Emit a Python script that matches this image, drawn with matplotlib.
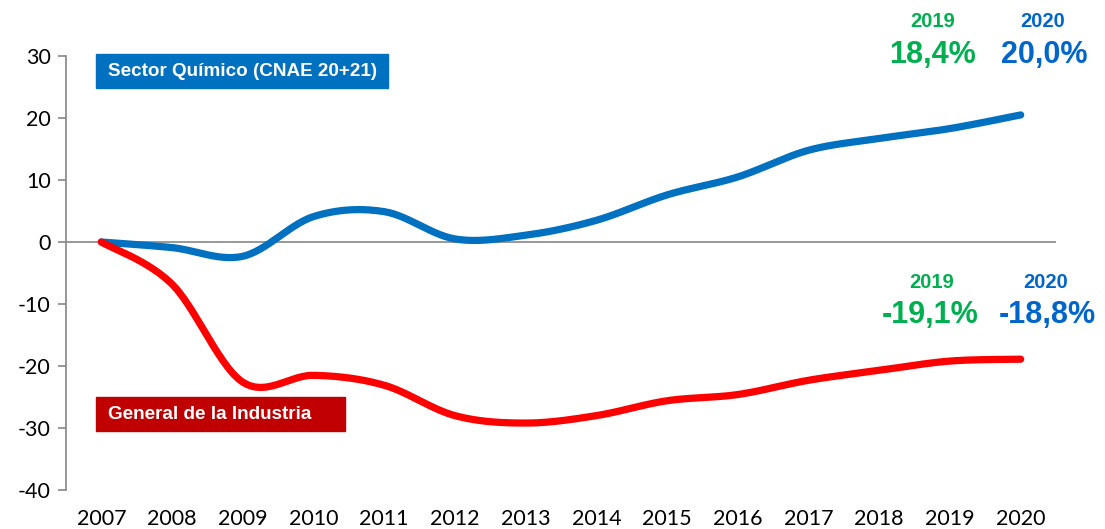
import numpy as np
import matplotlib
matplotlib.use("Agg")
import matplotlib.pyplot as plt
from matplotlib.patches import Rectangle

plt.rcParams['axes.unicode_minus'] = False

# datos
years = ['2007', '2008', '2009', '2010', '2011', '2012', '2013',
         '2014', '2015', '2016', '2017', '2018', '2019', '2020']
quimico = [0, -0.9, -2.3, 4.1, 4.9, 0.5, 1.1, 3.5, 7.6, 10.5, 14.8, 16.7, 18.3, 20.5]
industria = [0, -6.8, -22.6, -21.5, -23.1, -28.0, -29.2, -28.0, -25.6, -24.6, -22.3, -20.7, -19.2, -18.9]
yticks = [30, 20, 10, 0, -10, -20, -30, -40]

BLUE = '#0070C0'
RED = '#FF0000'
DARKRED = '#C00000'
GREEN = '#00B050'
LABBLUE = '#0066CC'


def suavizar(x, y, n=30):
    # curva tipo Catmull-Rom (como el "suavizado" de Excel)
    x = np.asarray(x, float)
    y = np.asarray(y, float)
    px = np.concatenate([[x[0]], x, [x[-1]]])
    py = np.concatenate([[y[0]], y, [y[-1]]])
    t = np.linspace(0, 1, n)
    xs, ys = [], []
    for i in range(1, len(px) - 2):
        p0x, p1x, p2x, p3x = px[i - 1], px[i], px[i + 1], px[i + 2]
        p0y, p1y, p2y, p3y = py[i - 1], py[i], py[i + 1], py[i + 2]
        c1x, c1y = p1x + (p2x - p0x) / 6, p1y + (p2y - p0y) / 6
        c2x, c2y = p2x - (p3x - p1x) / 6, p2y - (p3y - p1y) / 6
        b0 = (1 - t) ** 3
        b1 = 3 * (1 - t) ** 2 * t
        b2 = 3 * (1 - t) * t ** 2
        b3 = t ** 3
        xs.append(b0 * p1x + b1 * c1x + b2 * c2x + b3 * p2x)
        ys.append(b0 * p1y + b1 * c1y + b2 * c2y + b3 * p2y)
    return np.concatenate(xs), np.concatenate(ys)


fig = plt.figure(figsize=(11.05, 5.29), dpi=100)
ax = fig.add_axes([0.0597, 0.0737, 0.8960, 0.8204])

xpos = np.arange(len(years))
xq, yq = suavizar(xpos, quimico)
xi, yi = suavizar(xpos, industria)
ax.plot(xq, yq, color=BLUE, lw=5.2, solid_capstyle='round', zorder=3)
ax.plot(xi, yi, color=RED, lw=5.2, solid_capstyle='round', zorder=3)

ax.axhline(0, color='#868686', lw=1.2, zorder=1)
ax.set_xlim(-0.5, len(years) - 0.5)
ax.set_ylim(-40, 30)
ax.set_yticks(yticks)
ax.set_xticks(xpos)
ax.set_xticklabels(years)

for s in ['top', 'right', 'bottom']:
    ax.spines[s].set_visible(False)
ax.spines['left'].set_color('#868686')
ax.spines['left'].set_linewidth(1.2)
ax.tick_params(axis='y', colors='#868686', length=6, width=1.2, labelcolor='black',
               labelsize=15.5, pad=5)
ax.tick_params(axis='x', length=0, labelsize=15.5, pad=14)
for lab in ax.get_xticklabels() + ax.get_yticklabels():
    lab.set_fontfamily('Lato')

# cajas con el nombre de las series
ax.add_patch(Rectangle((-0.07, 24.8), 4.13, 5.5, color=BLUE, clip_on=False, zorder=2))
ax.text(0.09, 27.5, 'Sector Químico (CNAE 20+21)', color='white', fontsize=13.6,
        fontweight='bold', family='Liberation Sans', va='center', ha='left')
ax.add_patch(Rectangle((-0.07, -30.5), 3.51, 5.5, color=DARKRED, clip_on=False, zorder=2))
ax.text(0.1, -27.8, 'General de la Industria', color='white', fontsize=13.6,
        fontweight='bold', family='Liberation Sans', va='center', ha='left', zorder=4)

# etiquetas de 2019 y 2020
etq = dict(family='Liberation Sans', fontweight='bold', ha='center', va='center',
           clip_on=False)
ax.text(11.76, 35.5, '2019', color=GREEN, fontsize=14.5, **etq)
ax.text(11.75, 30.2, '18,4%', color=GREEN, fontsize=22, **etq)
ax.text(13.31, 35.5, '2020', color=LABBLUE, fontsize=14.5, **etq)
ax.text(13.33, 30.2, '20,0%', color=LABBLUE, fontsize=22, **etq)
ax.text(11.74, -6.5, '2019', color=GREEN, fontsize=14.5, **etq)
ax.text(11.72, -11.8, '-19,1%', color=GREEN, fontsize=22, **etq)
ax.text(13.35, -6.5, '2020', color=LABBLUE, fontsize=14.5, **etq)
ax.text(13.38, -11.8, '-18,8%', color=LABBLUE, fontsize=22, **etq)

fig.savefig('out.png', dpi=100)
